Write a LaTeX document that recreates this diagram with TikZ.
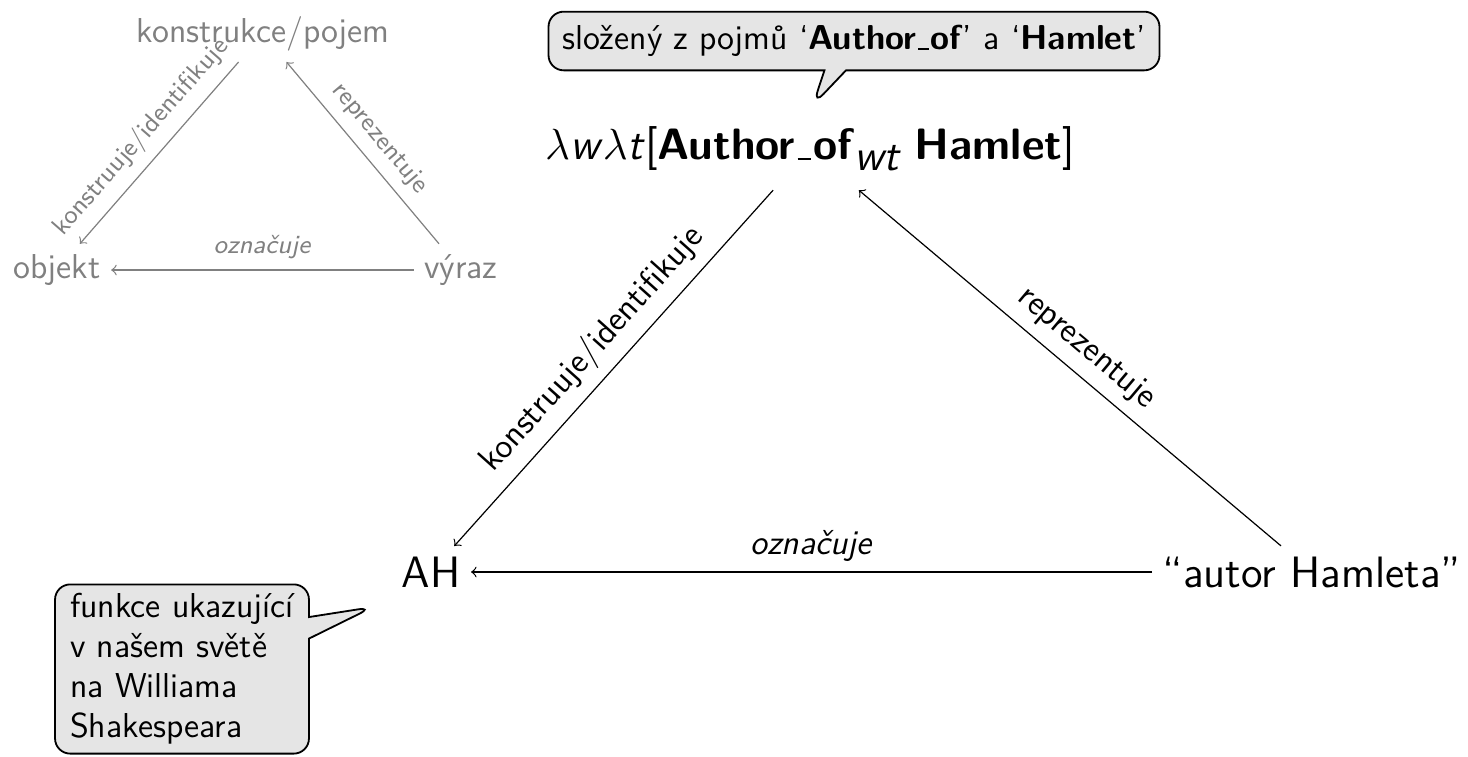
\documentclass[tikz,border=0pt]{standalone}
\usetikzlibrary{shapes.callouts}
\newcommand{\lowbar}{\leavevmode\kern.06em\vbox{\hrule height 0.7pt width .3em}\kern.06em}
\tikzset{
  gnode/.style={gray, font=\sffamily\fontsize{11.4}{13}\selectfont},
  glabel/.style={gray, sloped, above, font=\sffamily\fontsize{8.6}{10}\selectfont},
  mnode/.style={font=\sffamily\fontsize{14.5}{17}\selectfont},
  mlabel/.style={sloped, above, font=\sffamily\fontsize{11.4}{13}\selectfont},
  bubble/.style={rectangle callout, draw, fill=gray!20, line width=0.6pt,
    rounded corners=5pt, inner sep=4.5pt, align=left,
    font=\sffamily\fontsize{11.4}{12.2}\selectfont}
}
\begin{document}
\begin{tikzpicture}[x=0.33pt, y=-0.33pt]
    \useasboundingbox (0, 0) rectangle (1468, 756);
    % small grey triangle
    \node[gnode] (pojem) at (263, 34) {konstrukce/pojem};
    \node[gnode] (obj) at (57, 270) {objekt};
    \node[gnode] (vyraz) at (461, 270) {výraz};
    \draw[->, gray] (pojem) -- node[glabel] {konstruuje/identifikuje} (obj);
    \draw[->, gray] (vyraz) -- node[glabel] {reprezentuje} (pojem);
    \draw[->, gray] (vyraz) -- node[glabel] {\textit{označuje}} (obj);
    % the big one
    \node[mnode, outer sep=3pt] (form) at (810, 149) {$\lambda$\textit{w}$\lambda$\textit{t}[\textbf{Author\lowbar of}$_{\textit{wt}}$ \textbf{Hamlet}]};
    \node[mnode] (ah) at (431, 572) {AH};
    \node[mnode] (aut) at (1312, 572) {“autor Hamleta”};
    \draw[->] (form) -- node[mlabel] {konstruuje/identifikuje} (ah);
    \draw[->] (aut) -- node[mlabel] {reprezentuje} (form);
    \draw[->] (aut) -- node[mlabel] {\textit{označuje}} (ah);
    % callouts
    \coordinate (tipa) at (813, 105);
    \coordinate (tipb) at (373, 607);
    \node[bubble, callout absolute pointer={(tipa)}] (bubblea) at (854, 41)
        {složený z pojmů ‘\textbf{Author\lowbar of}’ a ‘\textbf{Hamlet}’};
    \node[bubble, inner ysep=3pt, inner xsep=5pt, font=\sffamily\fontsize{11.4}{13.2}\selectfont,
        callout absolute pointer={(tipb)}] (bubbleb) at (182, 669)
        {funkce ukazující\\ v našem světě\\ na Williama\\ Shakespeara};
\end{tikzpicture}
\end{document}
